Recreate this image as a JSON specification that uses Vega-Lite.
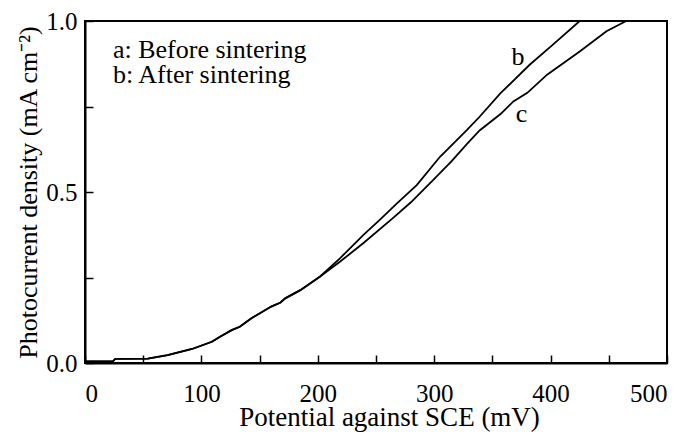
{
  "$schema": "https://vega.github.io/schema/vega-lite/v6.json",
  "width": 582,
  "height": 342,
  "autosize": {"type": "none"},
  "padding": {"left": 85, "top": 21, "right": 19, "bottom": 69},
  "background": "white",
  "config": {
    "view": {"stroke": "black", "strokeWidth": 2},
    "font": "Liberation Serif",
    "axis": {
      "grid": false,
      "domainColor": "black",
      "domainWidth": 2,
      "tickColor": "black",
      "tickWidth": 1.5,
      "labelColor": "black",
      "labelFont": "Liberation Serif",
      "labelFontSize": 25,
      "titleFont": "Liberation Serif",
      "titleFontWeight": "normal",
      "titleColor": "black",
      "titleFontSize": 26
    }
  },
  "datasets": {
    "curves": [
      {"curve": "b", "potential": 0, "current": 0.005},
      {"curve": "b", "potential": 24, "current": 0.005},
      {"curve": "b", "potential": 26, "current": 0.012},
      {"curve": "b", "potential": 54, "current": 0.013},
      {"curve": "b", "potential": 71, "current": 0.023},
      {"curve": "b", "potential": 92, "current": 0.041},
      {"curve": "b", "potential": 109, "current": 0.062},
      {"curve": "b", "potential": 116, "current": 0.077},
      {"curve": "b", "potential": 126, "current": 0.096},
      {"curve": "b", "potential": 133, "current": 0.106},
      {"curve": "b", "potential": 143, "current": 0.131},
      {"curve": "b", "potential": 160, "current": 0.165},
      {"curve": "b", "potential": 168, "current": 0.177},
      {"curve": "b", "potential": 172, "current": 0.189},
      {"curve": "b", "potential": 185, "current": 0.213},
      {"curve": "b", "potential": 202, "current": 0.253},
      {"curve": "b", "potential": 219, "current": 0.306},
      {"curve": "b", "potential": 239, "current": 0.374},
      {"curve": "b", "potential": 253, "current": 0.418},
      {"curve": "b", "potential": 268, "current": 0.467},
      {"curve": "b", "potential": 285, "current": 0.52},
      {"curve": "b", "potential": 305, "current": 0.603},
      {"curve": "b", "potential": 328, "current": 0.681},
      {"curve": "b", "potential": 339, "current": 0.72},
      {"curve": "b", "potential": 357, "current": 0.789},
      {"curve": "b", "potential": 382, "current": 0.872},
      {"curve": "b", "potential": 402, "current": 0.931},
      {"curve": "b", "potential": 425, "current": 1.0},
      {"curve": "c", "potential": 0, "current": 0.005},
      {"curve": "c", "potential": 24, "current": 0.005},
      {"curve": "c", "potential": 26, "current": 0.012},
      {"curve": "c", "potential": 54, "current": 0.013},
      {"curve": "c", "potential": 71, "current": 0.023},
      {"curve": "c", "potential": 92, "current": 0.041},
      {"curve": "c", "potential": 109, "current": 0.062},
      {"curve": "c", "potential": 116, "current": 0.077},
      {"curve": "c", "potential": 126, "current": 0.096},
      {"curve": "c", "potential": 133, "current": 0.106},
      {"curve": "c", "potential": 143, "current": 0.131},
      {"curve": "c", "potential": 160, "current": 0.165},
      {"curve": "c", "potential": 168, "current": 0.177},
      {"curve": "c", "potential": 172, "current": 0.189},
      {"curve": "c", "potential": 185, "current": 0.213},
      {"curve": "c", "potential": 202, "current": 0.253},
      {"curve": "c", "potential": 219, "current": 0.296},
      {"curve": "c", "potential": 239, "current": 0.35},
      {"curve": "c", "potential": 265, "current": 0.425},
      {"curve": "c", "potential": 280, "current": 0.47},
      {"curve": "c", "potential": 299, "current": 0.535},
      {"curve": "c", "potential": 315, "current": 0.59},
      {"curve": "c", "potential": 328, "current": 0.64},
      {"curve": "c", "potential": 339, "current": 0.68},
      {"curve": "c", "potential": 357, "current": 0.728},
      {"curve": "c", "potential": 368, "current": 0.765},
      {"curve": "c", "potential": 380, "current": 0.79},
      {"curve": "c", "potential": 397, "current": 0.843},
      {"curve": "c", "potential": 425, "current": 0.911},
      {"curve": "c", "potential": 448, "current": 0.97},
      {"curve": "c", "potential": 465, "current": 1.0}
    ],
    "legendNotes": [
      {"label": "a: Before sintering", "potential": 24, "current": 0.891},
      {"label": "b: After sintering", "potential": 24, "current": 0.818}
    ],
    "curveNotes": [
      {"label": "b", "potential": 372, "current": 0.871},
      {"label": "c", "potential": 375, "current": 0.705}
    ]
  },
  "layer": [
    {
      "data": {"name": "curves"},
      "mark": {"type": "line", "color": "black", "strokeWidth": 1.8, "clip": true},
      "encoding": {
        "x": {
          "field": "potential",
          "type": "quantitative",
          "scale": {"domain": [0, 500], "nice": false, "zero": false},
          "axis": {
            "title": "Potential against SCE (mV)",
            "values": [0, 50, 100, 150, 200, 250, 300, 350, 400, 450, 500],
            "labelExpr": "datum.value % 100 == 0 ? datum.label : ''",
            "tickSize": -8,
            "labelPadding": 26,
            "titleFontSize": 27,
            "titleBaseline": "alphabetic",
            "titleX": 304,
            "titleY": 62
          }
        },
        "y": {
          "field": "current",
          "type": "quantitative",
          "scale": {"domain": [0, 1], "nice": false},
          "axis": {
            "title": "Photocurrent density (mA cm⁻²)",
            "values": [0, 0.25, 0.5, 0.75, 1],
            "labelExpr": "datum.value == 0.25 || datum.value == 0.75 ? '' : format(datum.value, '.1f')",
            "tickSize": -8,
            "labelPadding": 16,
            "titlePadding": 4
          }
        },
        "detail": {"field": "curve", "type": "nominal"}
      }
    },
    {
      "data": {"name": "legendNotes"},
      "mark": {"type": "text", "align": "left", "baseline": "alphabetic", "fontSize": 26, "font": "Liberation Serif", "color": "black"},
      "encoding": {
        "x": {"field": "potential", "type": "quantitative"},
        "y": {"field": "current", "type": "quantitative"},
        "text": {"field": "label", "type": "nominal"}
      }
    },
    {
      "data": {"name": "curveNotes"},
      "mark": {"type": "text", "align": "center", "baseline": "alphabetic", "fontSize": 26, "font": "Liberation Serif", "color": "black"},
      "encoding": {
        "x": {"field": "potential", "type": "quantitative"},
        "y": {"field": "current", "type": "quantitative"},
        "text": {"field": "label", "type": "nominal"}
      }
    }
  ]
}
